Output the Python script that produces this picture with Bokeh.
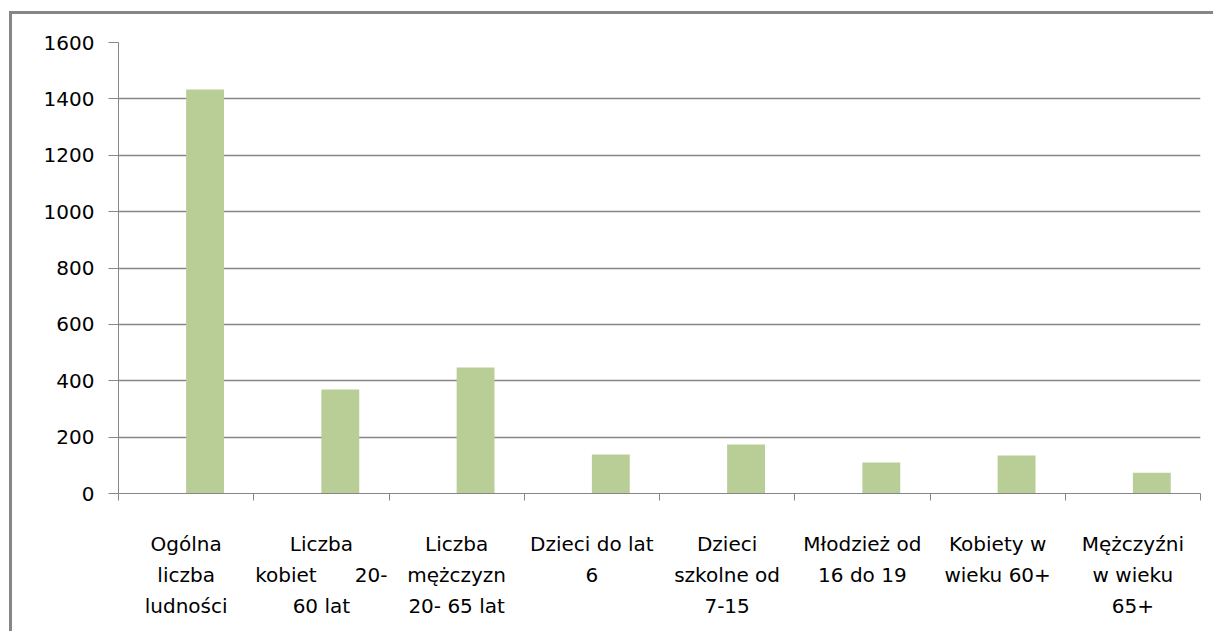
from bokeh.plotting import figure
from bokeh.models import FixedTicker, Range1d, ColumnDataSource
from bokeh.transform import dodge
from bokeh.embed import file_html
from bokeh.resources import INLINE

NB = "\u00a0"
categories = [
    "Ogólna\nliczba\nludności",
    "Liczba\nkobiet" + NB * 6 + "20-\n60 lat",
    "Liczba\nmężczyzn\n20- 65 lat",
    "Dzieci do lat\n6",
    "Dzieci\nszkolne od\n7-15",
    "Młodzież od\n16 do 19",
    "Kobiety w\nwieku 60+",
    "Mężczyźni\nw wieku\n65+",
]
values = [1433, 369, 447, 138, 174, 110, 135, 74]
y_ticks = [0, 200, 400, 600, 800, 1000, 1200, 1400, 1600]

n = len(categories)
xs = [i + 0.5 for i in range(n)]
bar_width = 0.28

src = ColumnDataSource(dict(x=xs, top=values))

p = figure(width=1204, height=620, output_backend="svg", toolbar_location=None,
           x_range=Range1d(0, n), y_range=Range1d(0, 1600),
           min_border_left=106, min_border_right=16, min_border_top=28, min_border_bottom=141)
p.styles = {"border-left": "3px solid #868686", "border-top": "3px solid #868686",
            "margin-left": "9px", "margin-top": "11px"}
p.outline_line_color = None
p.background_fill_color = "white"

# visible series sits in the right half of each category slot (clustered layout)
p.vbar(x=dodge("x", bar_width / 2), top="top", width=bar_width, source=src,
       color="#B9CD96", line_color=None)

font = "DejaVu Sans"
gray = "#868686"

p.xaxis.ticker = FixedTicker(ticks=xs, minor_ticks=list(range(n + 1)))
p.xaxis.major_label_overrides = {x: c for x, c in zip(xs, categories)}
p.xaxis.major_tick_out = 0
p.xaxis.major_tick_in = 0
p.xaxis.minor_tick_out = 7
p.xaxis.minor_tick_in = 0
p.xaxis.minor_tick_line_color = gray
p.xaxis.axis_line_color = gray
p.xaxis.major_label_standoff = 31
p.xaxis.major_label_text_font = font
p.xaxis.major_label_text_font_size = "20px"
p.xaxis.major_label_text_color = "black"
p.xaxis.major_label_text_line_height = 1.3

p.yaxis.ticker = FixedTicker(ticks=y_ticks)
p.yaxis.major_tick_out = 10
p.yaxis.major_tick_in = 0
p.yaxis.minor_tick_line_color = None
p.yaxis.major_tick_line_color = gray
p.yaxis.axis_line_color = gray
p.yaxis.major_label_standoff = 14
p.yaxis.major_label_text_font = font
p.yaxis.major_label_text_font_size = "20px"
p.yaxis.major_label_text_color = "black"

p.xgrid.grid_line_color = None
p.ygrid.ticker = FixedTicker(ticks=y_ticks)
p.ygrid.grid_line_color = gray
p.ygrid.grid_line_width = 1.3

open("out.html", "w").write(file_html(p, INLINE))
